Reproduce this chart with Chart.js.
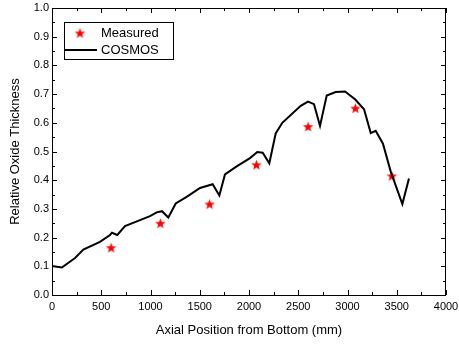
<!DOCTYPE html>
<html>
<head>
<meta charset="utf-8">
<script src="https://cdn.jsdelivr.net/npm/chart.js@4"></script>
<style>
  html, body { margin: 0; padding: 0; background: #fff; }
  #wrap { width: 459px; height: 344px; }
</style>
</head>
<body>
<div id="wrap"><canvas id="chart" width="459" height="344"></canvas></div>
<script>
// axial position (mm) and relative oxide thickness
const cosmosX = [0, 100, 234, 318, 487, 589, 609, 663, 741, 995, 1063, 1117, 1181, 1256, 1367, 1503, 1631, 1699, 1756, 1875, 2010, 2084, 2139, 2206, 2271, 2338, 2525, 2599, 2660, 2721, 2789, 2880, 2975, 3076, 3168, 3236, 3286, 3360, 3439, 3557, 3624];
const cosmosY = [0.101, 0.096, 0.129, 0.158, 0.185, 0.209, 0.217, 0.209, 0.240, 0.275, 0.288, 0.292, 0.270, 0.319, 0.342, 0.373, 0.386, 0.347, 0.420, 0.448, 0.477, 0.498, 0.496, 0.459, 0.563, 0.600, 0.659, 0.674, 0.665, 0.589, 0.695, 0.707, 0.709, 0.682, 0.647, 0.564, 0.572, 0.527, 0.430, 0.317, 0.406];
const measuredX = [600, 1100, 1600, 2075, 2600, 3080, 3450];
const measuredY = [0.165, 0.25, 0.317, 0.454, 0.587, 0.651, 0.415];

const FONT = "'Liberation Sans', Arial, sans-serif";

// filled red star used as the marker
function makeStar(r, color) {
  const c = document.createElement('canvas');
  const s = Math.ceil(r * 2 + 2);
  c.width = s; c.height = s;
  const g = c.getContext('2d');
  g.fillStyle = color;
  g.beginPath();
  for (let i = 0; i < 10; i++) {
    const rad = i % 2 === 0 ? r : r * 0.42;
    const a = -Math.PI / 2 + i * Math.PI / 5;
    const px = s / 2 + rad * Math.cos(a), py = s / 2 + 0.5 + rad * Math.sin(a);
    i === 0 ? g.moveTo(px, py) : g.lineTo(px, py);
  }
  g.closePath();
  g.fill();
  return c;
}
const star = makeStar(5.5, '#ff0000');

// inward ticks on all four sides plus the frame and legend
const frameTicks = {
  id: 'frameTicks',
  afterDraw(chart) {
    const { ctx, chartArea: a, scales: { x, y } } = chart;
    ctx.save();
    ctx.strokeStyle = '#000';
    ctx.lineWidth = 1;
    ctx.strokeRect(a.left + 0.5, a.top + 0.5, a.right - a.left - 1, a.bottom - a.top);
    ctx.beginPath();
    for (let v = 0; v <= 4000; v += 250) {
      const px = Math.round(x.getPixelForValue(v)) + 0.5;
      const len = v % 500 === 0 ? 5 : 3;
      ctx.moveTo(px, a.bottom); ctx.lineTo(px, a.bottom - len);
      ctx.moveTo(px, a.top); ctx.lineTo(px, a.top + len);
    }
    for (let i = 0; i <= 20; i++) {
      const py = Math.round(y.getPixelForValue(i * 0.05)) + 0.5;
      const len = i % 2 === 0 ? 5 : 3;
      ctx.moveTo(a.left, py); ctx.lineTo(a.left + len, py);
      ctx.moveTo(a.right, py); ctx.lineTo(a.right - len, py);
    }
    ctx.stroke();

    // legend box
    const ds = chart.data.datasets;
    const lx = 64, ly = 22, lw = 109, lh = 37;
    ctx.fillStyle = '#fff';
    ctx.fillRect(lx, ly, lw, lh);
    ctx.strokeRect(lx + 0.5, ly + 0.5, lw, lh);
    ctx.drawImage(star, 80 - star.width / 2, 33 - star.height / 2);
    ctx.lineWidth = 2;
    ctx.beginPath();
    ctx.moveTo(65, 50); ctx.lineTo(97, 50);
    ctx.stroke();
    ctx.fillStyle = '#000';
    ctx.font = '13px ' + FONT;
    ctx.textBaseline = 'middle';
    ctx.fillText(ds[1].label, 101, 33);
    ctx.fillText(ds[0].label, 101, 50);
    ctx.restore();
  }
};

new Chart(document.getElementById('chart'), {
  type: 'scatter',
  data: {
    datasets: [
      {
        label: 'COSMOS',
        data: cosmosX.map((v, i) => ({ x: v, y: cosmosY[i] })),
        showLine: true,
        borderColor: '#000',
        borderWidth: 2,
        pointRadius: 0,
        tension: 0
      },
      {
        label: 'Measured',
        data: measuredX.map((v, i) => ({ x: v, y: measuredY[i] })),
        pointStyle: star,
        pointRadius: 6
      }
    ]
  },
  options: {
    responsive: false,
    animation: false,
    layout: { padding: { left: 0, right: 13, top: 8, bottom: 0 } },
    plugins: { legend: { display: false }, tooltip: { enabled: false } },
    scales: {
      x: {
        type: 'linear',
        min: 0, max: 4000,
        grid: { display: false, drawTicks: false, tickLength: 0 },
        border: { display: false },
        ticks: { stepSize: 500, color: '#000', font: { family: FONT, size: 11 }, padding: 5, maxRotation: 0, callback: v => String(v) },
        title: { display: true, text: 'Axial Position from Bottom (mm)', color: '#000', font: { family: FONT, size: 13 }, padding: { top: 6, bottom: 6 } },
        afterFit(s) { s.height = 49; s.paddingLeft = 0; s.paddingRight = 0; }
      },
      y: {
        type: 'linear',
        min: 0, max: 1,
        grid: { display: false, drawTicks: false, tickLength: 0 },
        border: { display: false },
        ticks: { stepSize: 0.1, color: '#000', font: { family: FONT, size: 11 }, padding: 3, callback: v => v.toFixed(1) },
        title: { display: true, text: 'Relative Oxide Thickness', color: '#000', font: { family: FONT, size: 13 }, padding: { top: 8, bottom: 4 } },
        afterFit(s) { s.width = 52; s.paddingTop = 0; s.paddingBottom = 0; }
      }
    }
  },
  plugins: [frameTicks]
});
</script>
</body>
</html>
